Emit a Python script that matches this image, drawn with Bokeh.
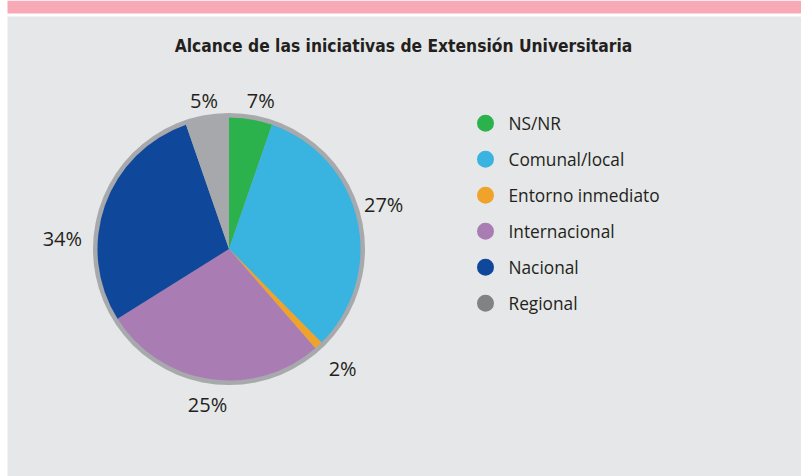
import numpy as np
from bokeh.plotting import figure
from bokeh.models import Range1d, ColumnDataSource
from bokeh.core.properties import value
from bokeh.embed import file_html
from bokeh.resources import INLINE

# ---- data ----
title = "Alcance de las iniciativas de Extensión Universitaria"
categories = ["NS/NR", "Comunal/local", "Entorno inmediato", "Internacional", "Nacional", "Regional"]
shares = [5.3, 32.3, 1.0, 27.5, 28.6, 5.3]          # slice sizes as drawn
share_labels = ["7%", "27%", "2%", "25%", "34%", "5%"]  # printed labels
slice_colors = ["#2bb24c", "#39b3e0", "#f0a32b", "#a97db4", "#0f479b", "#a7a8ab"]
legend_colors = ["#2bb24c", "#39b3e0", "#f0a32b", "#a97db4", "#0f479b", "#808285"]

# ---- styling / layout ----
W, H = 801, 476
cx, cy, R = 228.5, 476 - 248.5, 131.5
label_radius = [152, 161, 165, 157, 167, 151]
label_nudge_deg = [2.5, -3.3, -0.7, -0.6, -15.8, 0.0]
txt_color = "#231f20"

p = figure(width=W, height=H, output_backend="svg", toolbar_location=None,
           x_range=Range1d(0, W), y_range=Range1d(0, H), min_border=0)
p.axis.visible = False
p.grid.visible = False
p.outline_line_color = None
p.background_fill_color = "white"
p.border_fill_color = "white"

# decorative panels
p.quad(left=[7], right=[W], top=[H], bottom=[H - 13], fill_color="#f8a9b6", line_color=None)
p.quad(left=[7], right=[W], top=[H - 16], bottom=[0], fill_color="#e6e7e8", line_color=None)

# title
p.text(x=[403], y=[H - 45], text=[title], text_align="center", text_baseline="middle",
       text_font=value("DejaVu Sans Condensed"), text_font_style="bold",
       text_font_size="17.3px", text_color=txt_color)

# pie
fr = np.array(shares) / np.sum(shares)
cum = np.concatenate([[0], np.cumsum(fr)])
start = np.pi / 2 - 2 * np.pi * cum[:-1]
end = np.pi / 2 - 2 * np.pi * cum[1:]
src = ColumnDataSource(dict(start=start, end=end, color=slice_colors))
p.circle(x=[cx], y=[cy], radius=R + 4.5, fill_color="#a7a9ac", line_color=None)
p.wedge(x=cx, y=cy, radius=R, start_angle="start", end_angle="end", direction="clock",
        fill_color="color", line_color=None, source=src)

# labels
mid = (cum[:-1] + cum[1:]) / 2 * 360 + np.array(label_nudge_deg)
lr = np.array(label_radius)
lx = cx + lr * np.sin(np.radians(mid))
ly = cy + lr * np.cos(np.radians(mid))
p.text(x=lx, y=ly, text=share_labels, text_align="center", text_baseline="middle",
       text_font=value("Open Sans"), text_font_size="20px", text_color=txt_color)

# legend
idx = np.arange(len(categories))
leg_y = H - (122.7 + 36 * idx)
p.scatter(x=[485] * len(categories), y=leg_y, size=17, marker="circle",
          fill_color=legend_colors, line_color=None)
p.text(x=[508] * len(categories), y=leg_y, text=categories, text_align="left",
       text_baseline="middle", text_font=value("Open Sans"), text_font_size="17.3px",
       text_color=txt_color)

open("out.html", "w").write(file_html(p, INLINE))
